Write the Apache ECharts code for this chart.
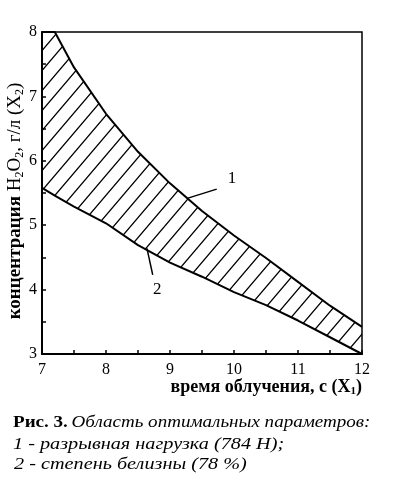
<!DOCTYPE html>
<html>
<head>
<meta charset="utf-8">
<script src="https://cdn.jsdelivr.net/npm/echarts@6/dist/echarts.min.js"></script>
<style>
  html, body { margin: 0; padding: 0; background: #fff; }
  #chart { width: 398px; height: 491px; }
</style>
</head>
<body>
<div id="chart"></div>
<script>
// время облучения, с (X1)
const timeValues = [7, 7.2, 7.5, 8, 8.5, 9, 9.5, 10, 10.5, 11, 11.5, 12]
// кривая 1 - разрывная нагрузка (784 Н)
const upperLine = [8, 8, 7.45, 6.73, 6.14, 5.65, 5.22, 4.84, 4.49, 4.12, 3.75, 3.42]
// кривая 2 - степень белизны (78 %)
const lowerLine = [5.58, 5.46, 5.29, 5.03, 4.69, 4.42, 4.20, 3.96, 3.76, 3.52, 3.26, 3.0]

const xTicks = [7, 8, 9, 10, 11, 12]
const yTicks = [3, 4, 5, 6, 7, 8]

// выноски с номерами кривых
const pointer1 = [[9.28, 5.42], [9.73, 5.56]]
const label1 = [9.97, 5.72]
const pointer2 = [[8.64, 4.64], [8.73, 4.23]]
const label2 = [8.80, 4.0]

const serif = '"Liberation Serif", "DejaVu Serif", serif'

// штриховка области
const hatch = document.createElement('canvas')
hatch.width = 17
hatch.height = 20
const hctx = hatch.getContext('2d')
hctx.strokeStyle = '#000'
hctx.lineWidth = 1.3
hctx.beginPath()
;[-17, 0, 17].forEach(dx => {
  hctx.moveTo(dx - 2, 20 + 40 / 17)
  hctx.lineTo(dx + 19, -40 / 17)
})
hctx.stroke()

const chart = echarts.init(document.getElementById('chart'))

const option = {
  animation: false,
  grid: {
    left: 42,
    right: 36,
    top: 32,
    bottom: 137,
    show: true,
    borderColor: '#000',
    borderWidth: 1.5,
    outerBoundsMode: 'none'
  },
  xAxis: {
    type: 'value',
    min: xTicks[0],
    max: xTicks[xTicks.length - 1],
    interval: 1,
    name: 'время облучения, с (X{s|1})',
    nameLocation: 'end',
    nameGap: 0,
    nameMoveOverlap: false,
    nameTextStyle: {
      fontFamily: serif,
      fontSize: 18,
      fontWeight: 'bold',
      color: '#000',
      align: 'right',
      verticalAlign: 'top',
      padding: [24, 0, 0, 0],
      rich: {
        s: { fontFamily: serif, fontSize: 11, fontWeight: 'bold', padding: [8, 0, 0, 0] }
      }
    },
    axisLine: { lineStyle: { color: '#000', width: 2 } },
    axisTick: { inside: true, length: 4, lineStyle: { color: '#000', width: 1.5 } },
    minorTick: { show: true, splitNumber: 2, length: 4, lineStyle: { color: '#000', width: 1.5 } },
    splitLine: { show: false },
    axisLabel: {
      fontFamily: serif,
      fontSize: 16,
      color: '#000',
      margin: 8,
      formatter: v => xTicks.includes(v) ? String(v) : ''
    }
  },
  yAxis: {
    type: 'value',
    min: yTicks[0],
    max: yTicks[yTicks.length - 1],
    interval: 1,
    name: '{b|концентрация} H{s|2}O{s|2}, г/л (X{s|2})',
    nameLocation: 'middle',
    nameGap: 16,
    nameRotate: 90,
    nameMoveOverlap: false,
    nameTextStyle: {
      fontFamily: serif,
      fontSize: 19,
      color: '#000',
      padding: [0, 16, 0, 0],
      rich: {
        b: { fontFamily: serif, fontSize: 19, fontWeight: 'bold' },
        s: { fontFamily: serif, fontSize: 12, padding: [9, 0, 0, 0] }
      }
    },
    axisLine: { lineStyle: { color: '#000', width: 2 } },
    axisTick: { inside: true, length: 4, lineStyle: { color: '#000', width: 1.5 } },
    minorTick: { show: true, splitNumber: 2, length: 4, lineStyle: { color: '#000', width: 1.5 } },
    splitLine: { show: false },
    axisLabel: {
      fontFamily: serif,
      fontSize: 16,
      color: '#000',
      margin: 5,
      formatter: v => yTicks.includes(v) ? String(v) : ''
    }
  },
  series: [
    {
      // заштрихованная область между кривыми
      type: 'custom',
      data: timeValues.map((x, i) => [x, upperLine[i], lowerLine[i]]),
      encode: { x: 0, y: [1, 2] },
      silent: true,
      z: 1,
      renderItem: function (params, api) {
        if (params.dataIndex !== 0) return null
        const pts = []
        timeValues.forEach((x, i) => pts.push(api.coord([x, upperLine[i]])))
        for (let i = timeValues.length - 1; i >= 0; i--) {
          pts.push(api.coord([timeValues[i], lowerLine[i]]))
        }
        return {
          type: 'polygon',
          shape: { points: pts },
          style: { fill: { image: hatch, repeat: 'repeat' }, stroke: null }
        }
      }
    },
    {
      name: '1',
      type: 'line',
      data: timeValues.map((x, i) => [x, upperLine[i]]),
      showSymbol: false,
      lineStyle: { color: '#000', width: 2 },
      markLine: {
        silent: true,
        symbol: 'none',
        label: { show: false },
        lineStyle: { color: '#000', width: 1.5, type: 'solid' },
        data: [[{ coord: pointer1[0] }, { coord: pointer1[1] }]]
      },
      markPoint: {
        silent: true,
        symbolSize: 0,
        label: { show: true, formatter: '1', fontFamily: serif, fontSize: 17, color: '#000' },
        data: [{ coord: label1 }]
      }
    },
    {
      name: '2',
      type: 'line',
      data: timeValues.map((x, i) => [x, lowerLine[i]]),
      showSymbol: false,
      lineStyle: { color: '#000', width: 2 },
      markLine: {
        silent: true,
        symbol: 'none',
        label: { show: false },
        lineStyle: { color: '#000', width: 1.5, type: 'solid' },
        data: [[{ coord: pointer2[0] }, { coord: pointer2[1] }]]
      },
      markPoint: {
        silent: true,
        symbolSize: 0,
        label: { show: true, formatter: '2', fontFamily: serif, fontSize: 17, color: '#000' },
        data: [{ coord: label2 }]
      }
    }
  ],
  // подпись к рисунку (в скане буквы растянуты по ширине)
  graphic: [
    {
      type: 'text',
      x: 13,
      y: 414,
      scaleX: 1.12,
      style: {
        text: '{b|Рис. 3.} {i|Область оптимальных параметров:}',
        rich: {
          b: { fontFamily: serif, fontSize: 17, fontWeight: 'bold', fill: '#000' },
          i: { fontFamily: serif, fontSize: 17, fontStyle: 'italic', fill: '#000' }
        }
      }
    },
    {
      type: 'text',
      x: 13,
      y: 436,
      scaleX: 1.19,
      style: {
        text: '1 - разрывная нагрузка (784 Н);',
        font: 'italic 17px ' + serif,
        fill: '#000'
      }
    },
    {
      type: 'text',
      x: 14,
      y: 456,
      scaleX: 1.19,
      style: {
        text: '2 - степень белизны (78 %)',
        font: 'italic 17px ' + serif,
        fill: '#000'
      }
    }
  ]
}

chart.setOption(option)
</script>
</body>
</html>
